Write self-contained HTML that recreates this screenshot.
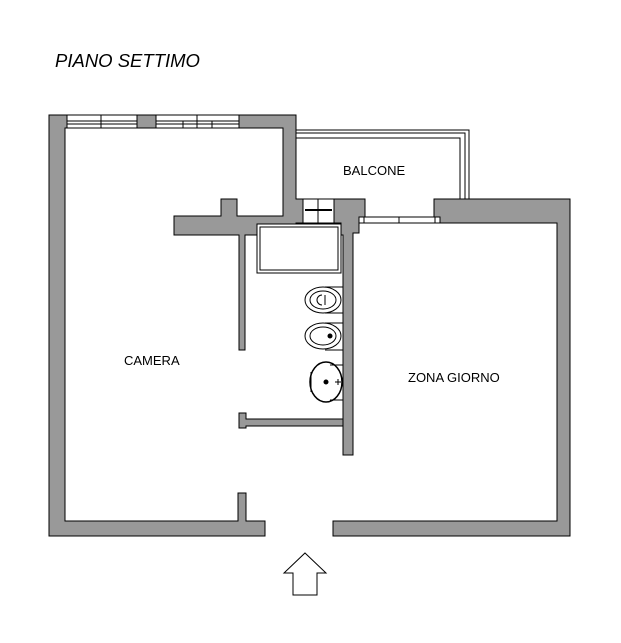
<!DOCTYPE html>
<html><head><meta charset="utf-8"><style>
html,body{margin:0;padding:0;background:#fff;}
svg{display:block;}
text{font-family:"Liberation Sans",sans-serif;fill:#000;}
</style></head><body>
<svg width="621" height="643" viewBox="0 0 621 643" xmlns="http://www.w3.org/2000/svg">
<g fill="#999" stroke="#000" stroke-width="1">
<path d="M49,115 H67 V128 H65 V521 H238 V493 H246 V521 H265 V536 H49 Z"/>
<path d="M137,115 H156 V128 H137 Z"/>
<path d="M239,115 H296 V199 H303 V223 H296 V224 H257 V235 H245 V350 H239 V235 H174 V216 H221 V199 H237 V216 H283 V128 H239 Z"/>
<path d="M334,199 H365 V217 H359 V233 H353 V455 H343 V235 H341 V223 H334 Z"/>
<path d="M239,413 H246 V419 H343 V426 H246 V428 H239 Z"/>
<path d="M434,199 H570 V536 H333 V521 H557 V223 H440 V217 H434 Z"/>
</g>
<g fill="none" stroke="#000" stroke-width="1">
<rect x="67" y="115" width="70" height="13" fill="#fff"/>
<line x1="67" y1="121" x2="137" y2="121"/><line x1="67" y1="124" x2="137" y2="124"/>
<line x1="101" y1="115" x2="101" y2="128"/>
<rect x="156" y="115" width="83" height="13" fill="#fff"/>
<line x1="156" y1="121" x2="239" y2="121"/><line x1="156" y1="124" x2="239" y2="124"/>
<line x1="197" y1="115" x2="197" y2="128"/><line x1="183" y1="121" x2="183" y2="128"/><line x1="212" y1="121" x2="212" y2="128"/>
<path d="M296,130 H469 V199"/><path d="M296,133 H465 V199"/><path d="M296,138 H460 V199"/>
<rect x="303" y="199" width="31" height="24"/>
<line x1="305" y1="210" x2="332" y2="210" stroke-width="2"/>
<line x1="318" y1="199" x2="318" y2="223"/>
<rect x="359" y="217" width="81" height="6" fill="#fff"/>
<line x1="399" y1="217" x2="399" y2="223"/>
<line x1="364" y1="217" x2="364" y2="223"/><line x1="435" y1="217" x2="435" y2="223"/>
<rect x="257" y="224" width="84" height="49"/>
<rect x="260" y="227" width="78" height="43"/>
<path d="M343,287 H325 M343,313 H325"/>
<ellipse cx="323" cy="300" rx="18" ry="13"/><ellipse cx="323" cy="300" rx="13" ry="9"/>
<path d="M325,295 V305 M322,295 a5,5 0 0 0 0,10"/>
<path d="M343,323 H325 M343,350 H325"/>
<ellipse cx="323" cy="336" rx="18" ry="13"/><ellipse cx="323" cy="336" rx="13" ry="9"/>
<circle cx="330" cy="336" r="2" fill="#000"/>
<path d="M343,365 H330 M343,400 H330"/>
<ellipse cx="326" cy="382" rx="16" ry="20" stroke-width="1.5"/>
<line x1="311" y1="372" x2="311" y2="392"/>
<circle cx="326" cy="382" r="2" fill="#000"/>
<path d="M335,382 h6 M338,379 v6"/>
<path d="M305,553 L326,573 H317 V595 H293 V573 H284 Z" fill="#fff"/>
</g>
<text x="55" y="67" font-size="18.5" font-style="italic">PIANO SETTIMO</text>
<text x="343" y="175" font-size="13">BALCONE</text>
<text x="124" y="365" font-size="13">CAMERA</text>
<text x="408" y="382" font-size="13">ZONA GIORNO</text>
</svg>
</body></html>
